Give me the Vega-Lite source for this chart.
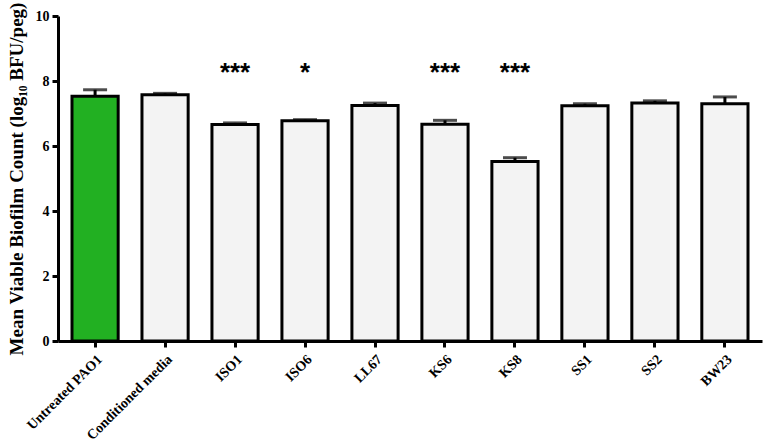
{
  "$schema": "https://vega.github.io/schema/vega-lite/v6.json",
  "width": 704,
  "height": 325,
  "autosize": {"type": "none"},
  "padding": {"left": 58, "top": 16, "right": 2, "bottom": 107},
  "background": "white",
  "config": {
    "view": {"stroke": null},
    "axis": {
      "labelFont": "Liberation Serif",
      "titleFont": "Liberation Serif",
      "labelFontWeight": "bold",
      "titleFontWeight": "bold",
      "labelColor": "black",
      "titleColor": "black",
      "domainColor": "black",
      "tickColor": "black",
      "domainWidth": 3,
      "tickWidth": 3,
      "grid": false
    }
  },
  "data": {
    "values": [
      {"group": "Untreated PAO1", "mean": 7.53, "upper": 7.73, "sig": "", "kind": "control"},
      {"group": "Conditioned media", "mean": 7.58, "upper": 7.62, "sig": "", "kind": "test"},
      {"group": "ISO1", "mean": 6.66, "upper": 6.71, "sig": "***", "kind": "test"},
      {"group": "ISO6", "mean": 6.78, "upper": 6.81, "sig": "*", "kind": "test"},
      {"group": "LL67", "mean": 7.25, "upper": 7.32, "sig": "", "kind": "test"},
      {"group": "KS6", "mean": 6.67, "upper": 6.79, "sig": "***", "kind": "test"},
      {"group": "KS8", "mean": 5.52, "upper": 5.64, "sig": "***", "kind": "test"},
      {"group": "SS1", "mean": 7.24, "upper": 7.30, "sig": "", "kind": "test"},
      {"group": "SS2", "mean": 7.32, "upper": 7.39, "sig": "", "kind": "test"},
      {"group": "BW23", "mean": 7.30, "upper": 7.51, "sig": "", "kind": "test"}
    ]
  },
  "encoding": {
    "x": {
      "field": "group",
      "type": "nominal",
      "sort": null,
      "scale": {"paddingInner": 0.34, "paddingOuter": 0.2},
      "axis": {
        "title": null,
        "labelAngle": -45,
        "labelFontSize": 14,
        "labelPadding": 5,
        "tickSize": 6,
        "offset": 0
      }
    }
  },
  "layer": [
    {
      "mark": {"type": "rule", "color": "black", "strokeWidth": 3},
      "encoding": {
        "y": {"field": "mean", "type": "quantitative"},
        "y2": {"field": "upper"}
      }
    },
    {
      "mark": {"type": "bar", "stroke": "black", "strokeWidth": 3},
      "encoding": {
        "y": {
          "field": "mean",
          "type": "quantitative",
          "scale": {"domain": [0, 10], "nice": false},
          "axis": {
            "title": "Mean Viable Biofilm Count (log₁₀ BFU/peg)",
            "titleFontSize": 19,
            "titlePadding": 9,
            "labelFontSize": 14,
            "values": [0, 2, 4, 6, 8, 10],
            "tickSize": 6,
            "labelPadding": 3
          }
        },
        "fill": {
          "field": "kind",
          "type": "nominal",
          "scale": {"domain": ["control", "test"], "range": ["#22b022", "#f3f3f3"]},
          "legend": null
        }
      }
    },
    {
      "mark": {"type": "tick", "color": "black", "size": 24, "thickness": 3},
      "encoding": {
        "y": {"field": "upper", "type": "quantitative"}
      }
    },
    {
      "mark": {"type": "text", "font": "Liberation Sans", "fontWeight": "bold", "fontSize": 26, "baseline": "middle", "dy": 6, "color": "black"},
      "encoding": {
        "y": {"datum": 8.42, "type": "quantitative"},
        "text": {"field": "sig"}
      }
    }
  ]
}
